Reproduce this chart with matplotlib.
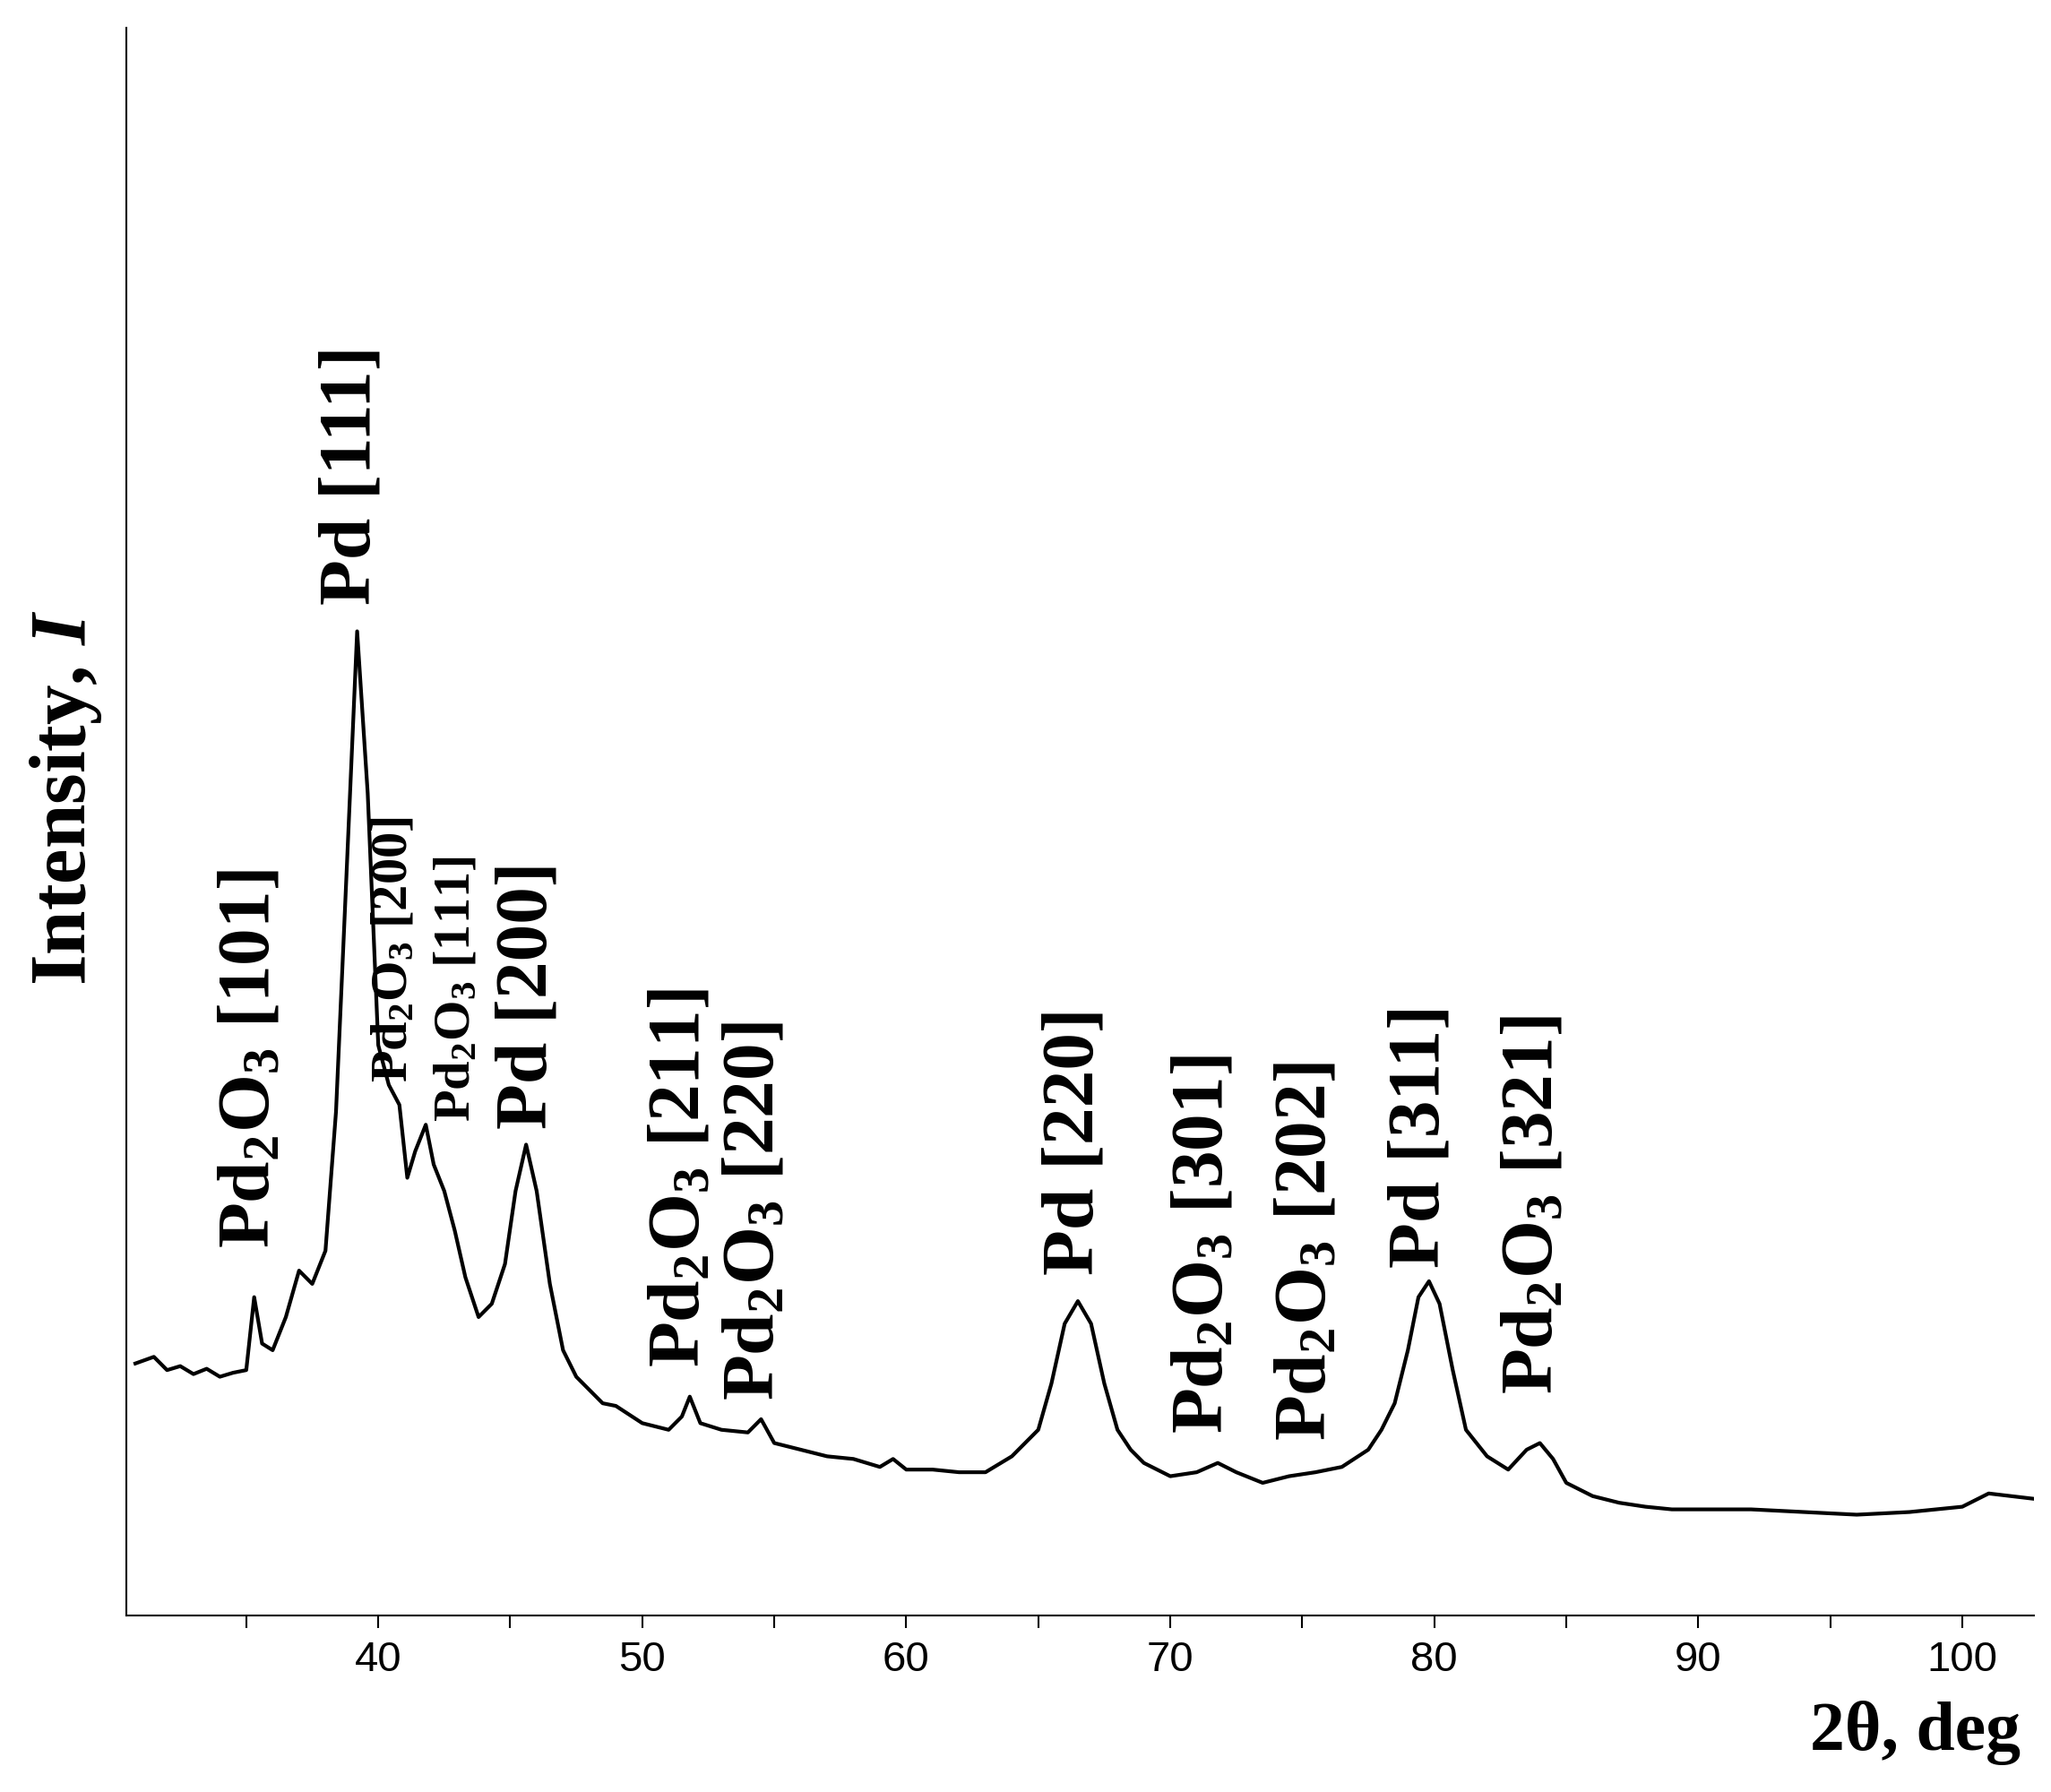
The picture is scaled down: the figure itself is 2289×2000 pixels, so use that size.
import matplotlib
matplotlib.use("Agg")
import matplotlib.pyplot as plt
from matplotlib.ticker import MultipleLocator

plt.rcParams['mathtext.fontset'] = 'custom'
plt.rcParams['mathtext.rm'] = 'Liberation Serif:bold'
plt.rcParams['mathtext.it'] = 'Liberation Serif:bold:italic'
plt.rcParams['mathtext.bf'] = 'Liberation Serif:bold'

two_theta = [30.8, 31.5, 32.0, 32.5, 33.0, 33.5, 34.0, 34.5, 35.0, 35.3, 35.6, 36.0, 36.5, 37.0, 37.5, 38.0,
             38.4, 38.8, 39.2, 39.6, 40.0, 40.4, 40.8, 41.1, 41.4, 41.8, 42.1, 42.5, 42.9, 43.3, 43.8, 44.3,
             44.8, 45.2, 45.6, 46.0, 46.5, 47.0, 47.5, 48.0, 48.5, 49.0, 50.0, 51.0, 51.5, 51.8, 52.2, 53.0,
             54.0, 54.5, 55.0, 56.0, 57.0, 58.0, 59.0, 59.5, 60.0, 61.0, 62.0, 63.0, 64.0, 64.5, 65.0, 65.5,
             66.0, 66.5, 67.0, 67.5, 68.0, 68.5, 69.0, 70.0, 71.0, 71.8, 72.5, 73.5, 74.5, 75.5, 76.5, 77.5,
             78.0, 78.5, 79.0, 79.4, 79.8, 80.2, 80.7, 81.2, 82.0, 82.8, 83.5, 84.0, 84.5, 85.0, 86.0, 87.0,
             88.0, 89.0, 90.0, 92.0, 94.0, 96.0, 98.0, 100.0, 101.0, 102.7]
intensity = [190, 195, 185, 188, 182, 186, 180, 183, 185, 240, 205, 200, 225, 260, 250, 275,
             380, 560, 742, 620, 430, 400, 385, 330, 350, 370, 340, 320, 290, 255, 225, 235,
             265, 320, 355, 320, 250, 200, 180, 170, 160, 158, 145, 140, 150, 165, 145, 140,
             138, 148, 130, 125, 120, 118, 112, 118, 110, 110, 108, 108, 120, 130, 140, 175,
             220, 237, 220, 175, 140, 125, 115, 105, 108, 115, 108, 100, 105, 108, 112, 125,
             140, 160, 200, 240, 252, 235, 185, 140, 120, 110, 125, 130, 118, 100, 90, 85,
             82, 80, 80, 80, 78, 76, 78, 82, 92, 88]

labels = [r'Pd$_2$O$_3$ [101]', 'Pd [111]', r'Pd$_2$O$_3$ [200]', r'Pd$_2$O$_3$ [111]', 'Pd [200]',
          r'Pd$_2$O$_3$ [211]', r'Pd$_2$O$_3$ [220]', 'Pd [220]', r'Pd$_2$O$_3$ [301]',
          r'Pd$_2$O$_3$ [202]', 'Pd [311]', r'Pd$_2$O$_3$ [321]']
label_x = [35.2, 39.0, 40.6, 43.0, 45.7, 51.5, 54.3, 66.4, 71.3, 75.2, 79.5, 83.8]
label_y = [277, 762, 402, 372, 367, 187, 162, 257, 137, 132, 262, 167]
label_small = [False, False, True, True, False, False, False, False, False, False, False, False]

fig = plt.figure(figsize=(22.89, 20), dpi=100)
ax = fig.add_axes([0.0615, 0.0985, 0.93, 0.886])
ax.plot(two_theta, intensity, color='black', lw=3)
ax.set_xlim(30.45, 102.7)
ax.set_ylim(0, 1197)
ax.spines['top'].set_visible(False)
ax.spines['right'].set_visible(False)
for s in ['left', 'bottom']:
    ax.spines[s].set_linewidth(1.5)
ax.set_yticks([])
ax.xaxis.set_major_locator(MultipleLocator(10))
ax.xaxis.set_minor_locator(MultipleLocator(5))
ax.set_xticks([40, 50, 60, 70, 80, 90, 100])
ax.tick_params(axis='x', which='both', direction='out', length=10, width=1.5,
               labelsize=34, pad=10)
for t in ax.get_xticklabels():
    t.set_fontfamily('Liberation Sans')

for txt, x, y, sm in zip(labels, label_x, label_y, label_small):
    ax.text(x, y, txt, rotation=90, ha='center', va='bottom',
            fontsize=42 if sm else 60, fontfamily='Liberation Serif', fontweight='bold')

fig.text(0.985, 0.015, '2θ, deg', ha='right', va='bottom', fontsize=56,
         fontfamily='Liberation Serif', fontweight='bold')
fig.text(0.032, 0.555, r'Intensity, $I$', rotation=90, ha='center', va='center', fontsize=64,
         fontfamily='Liberation Serif', fontweight='bold')

fig.savefig('out.png', dpi=100)
